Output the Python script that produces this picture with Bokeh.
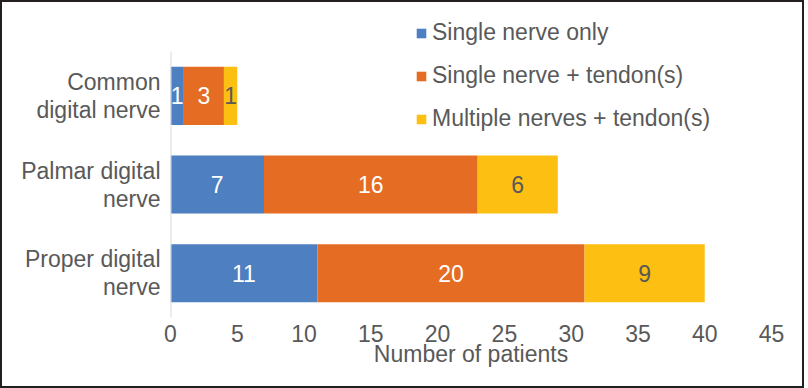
from bokeh.plotting import figure
from bokeh.models import ColumnDataSource, Legend, LegendItem
from bokeh.core.properties import value
from bokeh.embed import file_html
from bokeh.resources import INLINE

# ---- data ----
categories = ["Common digital nerve", "Palmar digital nerve", "Proper digital nerve"]
label_line1 = ["Common", "Palmar digital", "Proper digital"]
label_line2 = ["digital nerve", "nerve", "nerve"]
series_names = ["Single nerve only", "Single nerve + tendon(s)", "Multiple nerves + tendon(s)"]
single_nerve = [1, 7, 11]
single_tendon = [3, 16, 20]
multiple_tendon = [1, 6, 9]
x_ticks = [0, 5, 10, 15, 20, 25, 30, 35, 40, 45]

colors = ["#4E7FC0", "#E56C23", "#FDBF11"]
label_colors = ["#FFFFFF", "#FFFFFF", "#595959"]
FONT = "Liberation Sans"
GRAY = "#595959"
FS = "23px"

# numeric positions: first category at top
ypos = [len(categories) - 1 - i for i in range(len(categories))]
keys = ["s1", "s2", "s3"]
src = ColumnDataSource(dict(y=ypos, s1=single_nerve, s2=single_tendon, s3=multiple_tendon))

p = figure(width=804, height=384, output_backend="svg", toolbar_location=None,
           x_range=(0, 45), y_range=(-0.5, 2.963),
           min_border_left=168, min_border_right=35, min_border_top=8, min_border_bottom=69)
p.outline_line_color = None
p.background_fill_color = "white"
p.border_fill_color = "white"
p.grid.visible = False

renderers = p.hbar_stack(keys, y="y", height=0.655, color=colors, source=src, line_color=None)

# category axis line (only along the category band)
p.segment(x0=[0], y0=[-0.5], x1=[0], y1=[2.5], line_color="#D9D9D9", line_width=2)

# data labels
cum = [0] * len(categories)
for vals, lc in zip([single_nerve, single_tendon, multiple_tendon], label_colors):
    mids = [c + v / 2 for c, v in zip(cum, vals)]
    cum = [c + v for c, v in zip(cum, vals)]
    lsrc = ColumnDataSource(dict(x=mids, y=ypos, t=[str(v) for v in vals]))
    p.text(x="x", y="y", text="t", source=lsrc, text_align="center", text_baseline="middle",
           text_color=lc, text_font=value(FONT), text_font_size=FS)

# x axis
p.xaxis.ticker = x_ticks
p.xaxis.axis_line_color = None
p.xaxis.major_tick_line_color = None
p.xaxis.minor_tick_line_color = None
p.xaxis.major_tick_out = 0
p.xaxis.major_label_text_font = FONT
p.xaxis.major_label_text_font_size = FS
p.xaxis.major_label_text_color = GRAY
p.xaxis.major_label_standoff = 7
p.xaxis.axis_label = "Number of patients"
p.xaxis.axis_label_text_font = FONT
p.xaxis.axis_label_text_font_size = FS
p.xaxis.axis_label_text_font_style = "normal"
p.xaxis.axis_label_text_color = GRAY
p.xaxis.axis_label_standoff = -4

# y axis: two-line category labels
off = 0.158
yt, ov = [], {}
for yp, l1, l2 in zip(ypos, label_line1, label_line2):
    a, b = round(yp + off, 3), round(yp - off, 3)
    yt += [a, b]
    ov[a] = l1
    ov[b] = l2
p.yaxis.ticker = sorted(yt)
p.yaxis.major_label_overrides = ov
p.yaxis.axis_line_color = None
p.yaxis.major_tick_line_color = None
p.yaxis.minor_tick_line_color = None
p.yaxis.major_tick_out = 0
p.yaxis.major_label_text_font = FONT
p.yaxis.major_label_text_font_size = FS
p.yaxis.major_label_text_color = GRAY
p.yaxis.major_label_standoff = 10

legend = Legend(items=[LegendItem(label=n, renderers=[r]) for n, r in zip(series_names, renderers)],
                location=(245, 185), orientation="vertical",
                glyph_width=12, glyph_height=12, label_standoff=5, spacing=16,
                label_height=24, padding=0, margin=0,
                border_line_color=None, background_fill_alpha=0,
                label_text_font=FONT, label_text_font_size=FS, label_text_color=GRAY)
p.add_layout(legend, "center")

html = file_html(p, INLINE)
html = html.replace("<head>", "<head><style>html,body{margin:0;padding:0;overflow:hidden;}"
                    "body{border:2px solid #231F20;width:804px;height:384px;}</style>", 1)
open("out.html", "w").write(html)
